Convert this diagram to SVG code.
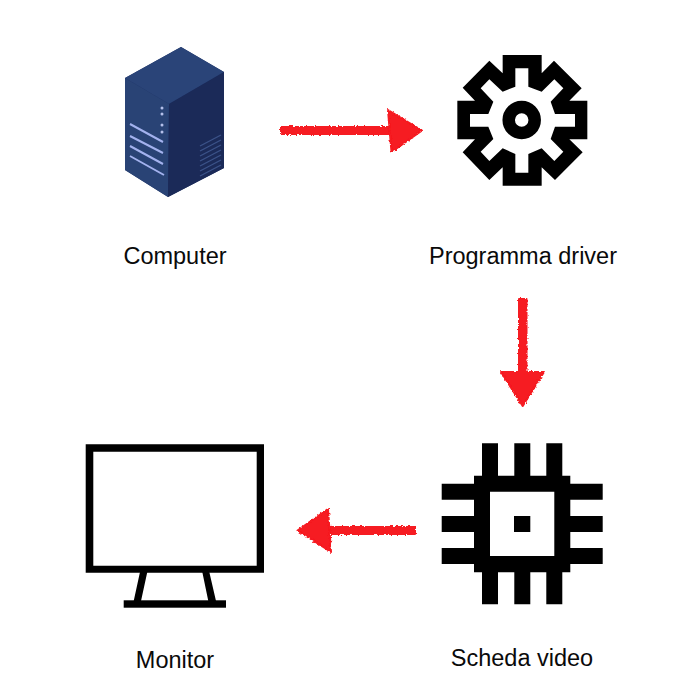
<svg xmlns="http://www.w3.org/2000/svg" width="700" height="700" viewBox="0 0 700 700">
<defs>
<filter id="rough" x="-10%" y="-30%" width="120%" height="160%"><feTurbulence type="fractalNoise" baseFrequency="0.45" numOctaves="2" seed="4" result="n"/><feDisplacementMap in="SourceGraphic" in2="n" scale="3.5" xChannelSelector="R" yChannelSelector="G"/></filter>
<filter id="roughV" x="-30%" y="-10%" width="160%" height="120%"><feTurbulence type="fractalNoise" baseFrequency="0.45" numOctaves="2" seed="9" result="n"/><feDisplacementMap in="SourceGraphic" in2="n" scale="3.5" xChannelSelector="R" yChannelSelector="G"/></filter>
</defs>
<style>
.lbl{font-family:"Liberation Sans",Arial,sans-serif;font-size:23.500px;fill:#0a0a0a;text-anchor:middle}
.k{fill:#000}
.arrow{fill:#f61a20;stroke:#f61a20;stroke-linejoin:round;stroke-width:2}
.slat{stroke:#a3b2ee;stroke-width:2;fill:none}
.dot{fill:#b4c0ea}
.vent{stroke:#3b5288;stroke-width:1.400;fill:none}
</style>
<rect width="700" height="700" fill="#fff"/>
<g id="connectors">
<g class="arrow" filter="url(#rough)"><path d="M281 127H392V134H281Z"/><path d="M388 110L422 130.500L391.500 152Z"/></g>
<g class="arrow" filter="url(#roughV)"><path d="M519 299H526.500V373H519Z"/><path d="M501 372H544L522.700 406Z"/></g>
<g class="arrow" filter="url(#rough)"><path d="M415 527V534H328V527Z"/><path d="M297.500 530.500L328 509L331 552Z"/></g>
</g>
<g id="computer">
<path d="M181 47L224 72V168L168 197L125 170V78Z" fill="#1f3265"/>
<path d="M181 47L224 72L169 104L125 78Z" fill="#2a4478"/>
<path d="M125 78L169 104L168 197L125 170Z" fill="#294375"/>
<path d="M169 104L224 72V168L168 197Z" fill="#1b2a58"/>
<path class="slat" d="M130 124L163 142M130 136L163 153M130 146L163 164M130 156L164 175"/>
<circle class="dot" cx="162" cy="108" r="1.500"/><circle class="dot" cx="162" cy="114" r="1.500"/><circle class="dot" cx="162" cy="125" r="1.500"/><circle class="dot" cx="162" cy="132" r="1.500"/>
<path class="vent" d="M200 146L221 135M200 151L221 140M200 156L221 145M200 161L221 150M200 166L221 155M200 171L221 160M200 176L221 165"/>
</g>
<g id="driver">
<path class="k" fill-rule="evenodd" transform="translate(440 40) scale(.33333)" d="M188 45H305V100L342 62L425 145L388 182H442V298H388L428 337L345 420L305 382V437H188V382L148 420L68 337L105 298H52V182H105L68 143L148 62L188 100ZM226 85V140L188 155L148 118L122 145L160 185L145 222H90V260H145L160 297L122 335L148 363L188 325L226 342V398H265V342L305 325L343 363L370 335L332 297L345 260H405V222H345L332 185L370 145L343 118L305 155L265 140V85Z"/>
<circle cx="521.700" cy="120" r="13" fill="none" stroke="#000" stroke-width="12.500"/>
</g>
<g id="chip">
<path class="k" fill-rule="evenodd" d="M482 443.300H498V475.700H514.300V443.300H530.300V475.700H546.300V443.300H562.300V475.700H570.300V483.700H602.700V499.700H570.300V516H602.700V532H570.300V548H602.700V564H570.300V572.300H562.300V604.300H546.300V572.300H530.300V604.300H514.300V572.300H498V604.300H482V572.300H474V564H441.700V548H474V532H441.700V516H474V499.700H441.700V483.700H474V475.700H482ZM490 491.700V556H554.300V491.700Z"/>
<rect class="k" x="514" y="516" width="16.300" height="16"/>
</g>
<g id="monitor">
<path class="k" fill-rule="evenodd" d="M85.700 444.300H264V572.700H85.700ZM93.300 451.700V565.700H256.700V451.700Z"/>
<path class="k" d="M140 572H147.300L141 601H133.700ZM202.300 572H209.300L216 601H208.300Z"/>
<rect class="k" x="123.700" y="600.300" width="102.300" height="7.400"/>
</g>
<text class="lbl" x="175" y="264">Computer</text>
<text class="lbl" x="523" y="263.500">Programma driver</text>
<text class="lbl" x="175" y="668">Monitor</text>
<text class="lbl" x="522" y="666">Scheda video</text>
</svg>
